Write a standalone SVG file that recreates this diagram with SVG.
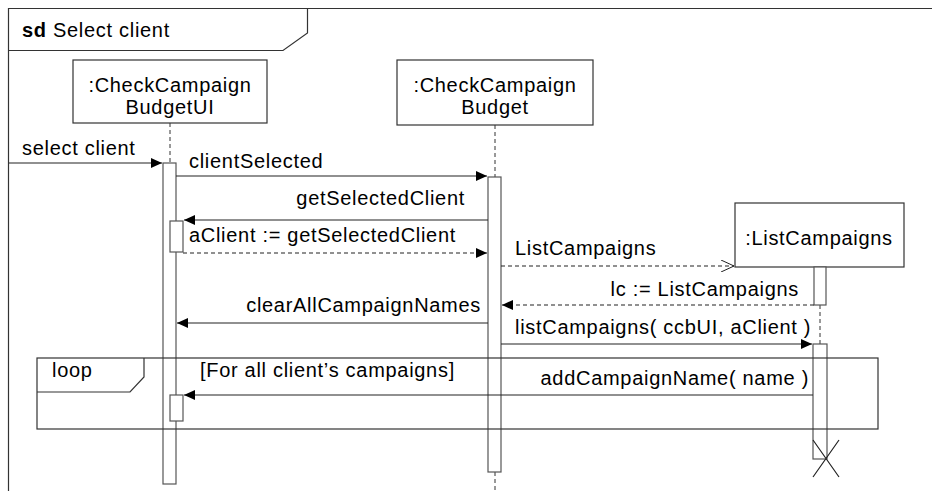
<svg xmlns="http://www.w3.org/2000/svg" width="932" height="491" viewBox="0 0 932 491">
<style>
text{font-family:"Liberation Sans",Arial,sans-serif;font-size:20px;letter-spacing:0.7px;fill:#000}
.e{text-anchor:end}
.m{text-anchor:middle}
.ln{stroke:#222;stroke-width:1.2;fill:none}
.dl{stroke:#222;stroke-width:1.2;fill:none;stroke-dasharray:4,3}
.ll{stroke:#333;stroke-width:1;fill:none;stroke-dasharray:4,3}
.box{fill:#fff;stroke:#333;stroke-width:1.2}
.act{fill:#fff;stroke:#555;stroke-width:1.2}
.fr{fill:none;stroke:#333;stroke-width:1.2}
</style>
<defs>
<marker id="f" markerWidth="12" markerHeight="10" refX="11" refY="5" orient="auto" markerUnits="userSpaceOnUse"><path d="M0,0 L11,5 L0,10 Z" fill="#000"/></marker>
<marker id="o" markerWidth="14" markerHeight="12" refX="13" refY="6" orient="auto" markerUnits="userSpaceOnUse"><path d="M0,0 L13,6 L0,12" fill="none" stroke="#222" stroke-width="1"/></marker>
</defs>
<rect width="932" height="491" fill="#fff"/>
<g id="frame">
<path class="fr" d="M8.5,491 V8.5 H932"/>
<path class="fr" d="M8.5,50.5 H283 L307.5,33 V8.5"/>
<text x="22" y="37"><tspan font-weight="bold">sd</tspan> Select client</text>
</g>
<g id="lifelines">
<line class="ll" x1="170" y1="123" x2="170" y2="163"/>
<line class="ll" x1="495" y1="125" x2="495" y2="177"/>
<line class="ll" x1="495" y1="472" x2="495" y2="491"/>
<line class="ll" x1="820" y1="305" x2="820" y2="344"/>
</g>
<g id="ui">
<rect class="box" x="73" y="60" width="194" height="63"/>
<text class="m" x="170" y="92">:CheckCampaign</text>
<text class="m" x="170" y="114">BudgetUI</text>
<rect class="act" x="163" y="163" width="13" height="321"/>
<rect class="act" x="170" y="221" width="13" height="31"/>
<rect class="act" x="170" y="395" width="13" height="26"/>
</g>
<g id="ctrl">
<rect class="box" x="397" y="60" width="196" height="65"/>
<text class="m" x="495" y="92">:CheckCampaign</text>
<text class="m" x="495" y="114">Budget</text>
<rect class="act" x="488" y="177" width="13" height="295"/>
</g>
<g id="lc">
<rect class="box" x="735" y="203" width="169" height="64"/>
<text class="m" x="819" y="245">:ListCampaigns</text>
<rect class="act" x="814" y="267" width="12" height="38"/>
<rect class="act" x="813" y="344" width="14" height="115"/>
<path class="ln" d="M813,440 L839,477 M839,440 L813,477"/>
</g>
<g id="loop">
<rect class="fr" x="37" y="358" width="841" height="71"/>
<path class="fr" d="M37,392 H130 L144,377 V358"/>
<text x="52" y="377">loop</text>
<text x="200" y="377">[For all client’s campaigns]</text>
</g>
<g id="connectors">
<line class="ln" x1="9" y1="163" x2="162" y2="163" marker-end="url(#f)"/>
<text x="22" y="155">select client</text>
<line class="ln" x1="176" y1="176" x2="487" y2="176" marker-end="url(#f)"/>
<text x="189" y="168">clientSelected</text>
<line class="ln" x1="488" y1="220" x2="184" y2="220" marker-end="url(#f)"/>
<text class="e" x="465" y="205">getSelectedClient</text>
<line class="dl" x1="183" y1="253" x2="487" y2="253" marker-end="url(#f)"/>
<text x="189" y="242">aClient := getSelectedClient</text>
<line class="dl" x1="501" y1="266" x2="734" y2="266" marker-end="url(#o)"/>
<text x="515" y="255">ListCampaigns</text>
<line class="dl" x1="814" y1="305" x2="502" y2="305" marker-end="url(#f)"/>
<text class="e" x="799" y="296">lc := ListCampaigns</text>
<line class="ln" x1="488" y1="323" x2="177" y2="323" marker-end="url(#f)"/>
<text class="e" x="481" y="312">clearAllCampaignNames</text>
<line class="ln" x1="501" y1="344" x2="812" y2="344" marker-end="url(#f)"/>
<text x="515" y="334">listCampaigns( ccbUI, aClient )</text>
<line class="ln" x1="813" y1="395" x2="184" y2="395" marker-end="url(#f)"/>
<text class="e" x="809" y="385">addCampaignName( name )</text>
</g>
</svg>
